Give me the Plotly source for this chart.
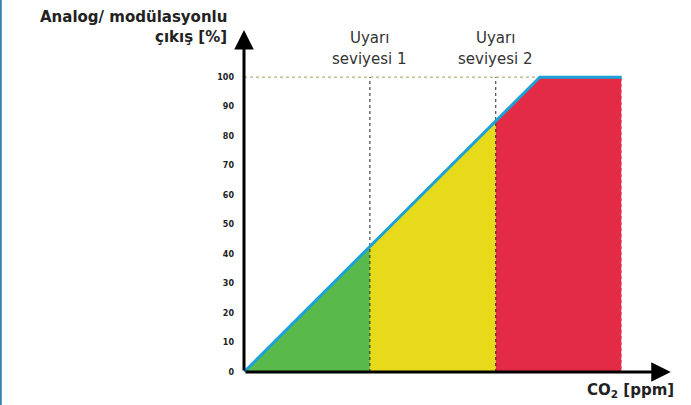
import plotly.graph_objects as go

# ---- data ----
co2_points = [0, 1000, 2000, 2350, 3000]        # CO2 (arbitrary ppm scale)
output_pct = [0, 42.5, 85, 100, 100]            # analog output %
zone_colors = ["#5ab94b", "#e6da1b", "#e42b45"]
zone_ranges = [(0, 1), (1, 2), (2, 4)]          # index ranges into the arrays
level_x = [1000, 2000]
level_line1 = ["Uyarı", "Uyarı"]
level_line2 = ["seviyesi 1", "seviyesi 2"]
y_ticks = [0, 10, 20, 30, 40, 50, 60, 70, 80, 90, 100]
y_title = ["Analog/ modülasyonlu", "çıkış [%]"]
x_title = "CO<sub>2</sub> [ppm]"

W, H = 691, 405
L, R, T, B = 244, 19, 30, 33
XMAX, YMAX = 3400, 116
PW, PH = W - L - R, H - T - B


def px(xp):   # page pixel x -> paper
    return (xp - L) / PW


def py(yp):   # page pixel y -> paper
    return (H - B - yp) / PH


fig = go.Figure()

# zone fills
for (i0, i1), col in zip(zone_ranges, zone_colors):
    xs = co2_points[i0:i1 + 1]
    ys = output_pct[i0:i1 + 1]
    fig.add_trace(go.Scatter(x=[xs[0]] + xs + [xs[-1]], y=[0] + ys + [0],
                             fill="toself", fillcolor=col, mode="none",
                             hoverinfo="skip", showlegend=False))

# dotted guides
fig.add_trace(go.Scatter(x=[0, co2_points[3]], y=[100, 100], mode="lines",
                         line=dict(color="#a89a5a", width=1, dash="dot"),
                         showlegend=False, hoverinfo="skip"))
for lx in level_x:
    fig.add_trace(go.Scatter(x=[lx, lx], y=[0, 100], mode="lines",
                             line=dict(color="#222222", width=1, dash="dot"),
                             showlegend=False, hoverinfo="skip"))
fig.add_trace(go.Scatter(x=[co2_points[-1], co2_points[-1]], y=[0, 100], mode="lines",
                         line=dict(color="#f0d8c8", width=1, dash="dot"),
                         showlegend=False, hoverinfo="skip"))

# output line
fig.add_trace(go.Scatter(x=co2_points, y=output_pct, mode="lines",
                         line=dict(color="#1ba3d9", width=3),
                         showlegend=False))

annotations = []
# axis arrows
annotations.append(dict(x=3390, y=0, ax=0, ay=0, xref="x", yref="y", axref="x", ayref="y",
                        showarrow=True, arrowhead=2, arrowsize=1.3, arrowwidth=3,
                        arrowcolor="black", text=""))
annotations.append(dict(x=0, y=116, ax=0, ay=0, xref="x", yref="y", axref="x", ayref="y",
                        showarrow=True, arrowhead=2, arrowsize=1.3, arrowwidth=3,
                        arrowcolor="black", text=""))
# level labels
for lx, l1, l2 in zip(level_x, level_line1, level_line2):
    annotations.append(dict(x=lx, y=py(38), xref="x", yref="paper", yanchor="middle",
                            text=l1, showarrow=False,
                            font=dict(family="DejaVu Sans", size=15, color="#333333")))
    annotations.append(dict(x=lx, y=py(59), xref="x", yref="paper", yanchor="middle",
                            text=l2, showarrow=False,
                            font=dict(family="DejaVu Sans", size=15, color="#333333")))
# y title
annotations.append(dict(x=px(229), y=py(17), xref="paper", yref="paper",
                        xanchor="right", yanchor="middle",
                        text="<b>%s</b>" % y_title[0], showarrow=False,
                        font=dict(family="DejaVu Sans", size=15, color="#222222")))
annotations.append(dict(x=px(229), y=py(37), xref="paper", yref="paper",
                        xanchor="right", yanchor="middle",
                        text="<b>%s</b>" % y_title[1], showarrow=False,
                        font=dict(family="DejaVu Sans", size=15, color="#222222")))
# x title
annotations.append(dict(x=px(676), y=py(390), xref="paper", yref="paper",
                        xanchor="right", yanchor="middle",
                        text="<b>%s</b>" % x_title, showarrow=False,
                        font=dict(family="DejaVu Sans", size=15, color="#222222")))

fig.update_layout(
    width=W, height=H,
    margin=dict(l=L, r=R, t=T, b=B, autoexpand=False),
    paper_bgcolor="white", plot_bgcolor="white",
    annotations=annotations,
    shapes=[dict(type="line", xref="paper", yref="paper",
                 x0=px(0.8), x1=px(0.8), y0=py(H), y1=py(0),
                 line=dict(color="#3b82b4", width=2))],
)
fig.update_xaxes(range=[0, XMAX], showgrid=False, zeroline=False, showticklabels=False,
                 showline=False)
fig.update_yaxes(range=[0, YMAX], showgrid=False, zeroline=False, tickvals=y_ticks,
                 ticks="", showline=False, ticklabelstandoff=9,
                 tickfont=dict(family="DejaVu Sans", size=8, color="#222222", weight="bold"))

fig.write_html("out.html", config={"displayModeBar": False},
               post_script="document.body.style.margin='0';document.body.style.overflow='hidden';")
